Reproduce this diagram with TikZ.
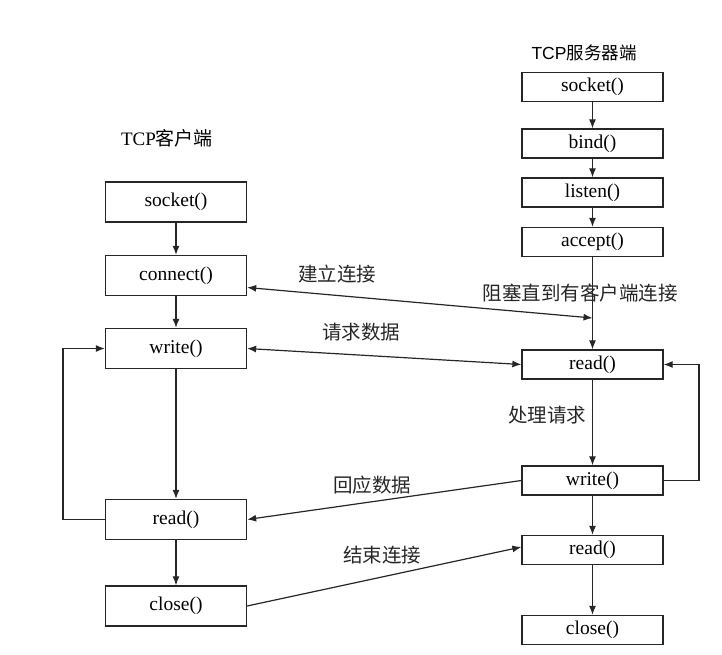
\documentclass[tikz,border=0pt]{standalone}
\usepackage{fontspec}
\setmainfont{Liberation Serif}
\newfontfamily\cjk{Noto Sans CJK SC}
\newfontfamily\sansf{Liberation Sans}
\usetikzlibrary{arrows.meta}
\begin{document}
\begin{tikzpicture}[x=1pt,y=-1pt,
  fn/.style={draw=black!85, line width=1.3pt, minimum width=141pt, inner sep=0pt, font=\fontsize{19.5}{21}\selectfont},
  cb/.style={fn, minimum height=40pt},
  sb/.style={fn, minimum height=29pt},
  lbl/.style={font=\cjk\fontsize{19.5}{21}\selectfont, text=black!85, inner sep=0pt},
  arr/.style={draw=black!85, line width=1.2pt, -{Latex[length=9pt,width=7pt]}},
  darr/.style={draw=black!85, line width=1.2pt, {Latex[length=9pt,width=7pt]}-{Latex[length=9pt,width=7pt]}}]
\useasboundingbox (0,0) rectangle (722,655);
% titles
\node[inner sep=0pt, font=\fontsize{19}{21}\selectfont] (ct) at (167,138) {TCP{\cjk 客户端}};
\node[inner sep=0pt, font=\sansf\fontsize{17.5}{21}\selectfont] (st) at (584,53) {TCP{\cjk 服务器端}};
% client
\node[cb] (csock) at (176,202) {socket()};
\node[cb] (cconn) at (176,275.5) {connect()};
\node[cb] (cwrite) at (176,348.5) {write()};
\node[cb] (cread) at (176,519.5) {read()};
\node[cb] (cclose) at (176,606) {close()};
% server
\node[sb] (ssock) at (592.5,87) {socket()};
\node[sb] (sbind) at (592.5,143.5) {bind()};
\node[sb] (slisten) at (592.5,192.5) {listen()};
\node[sb] (saccept) at (592.5,242) {accept()};
\node[sb] (sread) at (592.5,364.5) {read()};
\node[sb] (swrite) at (592.5,480.5) {write()};
\node[sb] (sread2) at (592.5,550) {read()};
\node[sb] (sclose) at (592.5,630) {close()};
% coordinates
\coordinate (blk) at (592.5,318);
\coordinate (cl1) at (63,519.5);
\coordinate (cl2) at (63,348.5);
\coordinate (sl1) at (699,480.5);
\coordinate (sl2) at (699,364.5);
% client flow
\draw[arr] (csock) -- (cconn);
\draw[arr] (cconn) -- (cwrite);
\draw[arr] (cwrite) -- (cread);
\draw[arr] (cread) -- (cclose);
\draw[arr] (cread.west) -- (cl1) -- (cl2) -- (cwrite.west);
% server flow
\draw[arr] (ssock) -- (sbind);
\draw[arr] (sbind) -- (slisten);
\draw[arr] (slisten) -- (saccept);
\draw[arr] (saccept) -- (sread);
\draw[arr] (sread) -- (swrite);
\draw[arr] (swrite) -- (sread2);
\draw[arr] (sread2) -- (sclose);
\draw[arr] (swrite.east) -- (sl1) -- (sl2) -- (sread.east);
% cross connections
\draw[darr] ([yshift=-12pt]cconn.east) -- (blk);
\draw[darr] (cwrite.east) -- (sread.west);
\draw[arr] (swrite.west) -- (cread.east);
\draw[arr] (cclose.east) -- ([yshift=3pt]sread2.west);
% labels
\node[lbl] (l1) at (337,274) {建立连接};
\node[lbl] (l2) at (580,293) {阻塞直到有客户端连接};
\node[lbl] (l3) at (361,332) {请求数据};
\node[lbl] (l4) at (547,415) {处理请求};
\node[lbl] (l5) at (372,485) {回应数据};
\node[lbl] (l6) at (382,555) {结束连接};
\end{tikzpicture}
\end{document}
